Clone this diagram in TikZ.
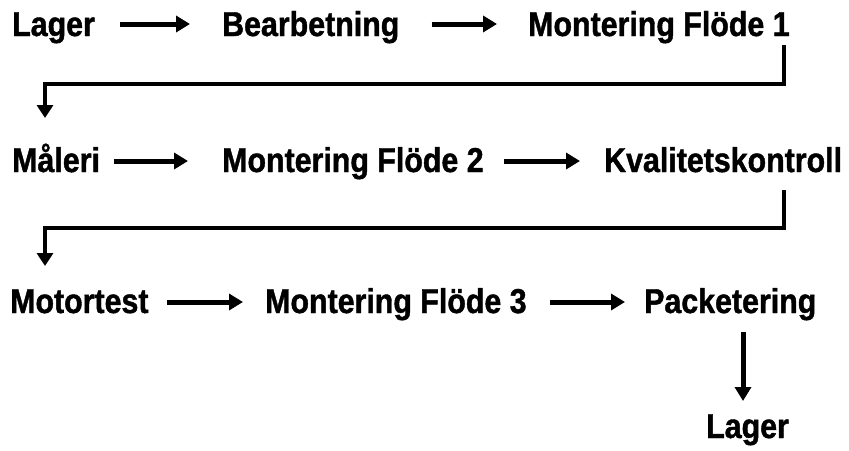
\documentclass[tikz,border=0pt]{standalone}
\usepackage{fontspec}
\newfontfamily\lbl[FakeStretch=0.88,FakeBold=1.2]{Liberation Sans}
\usetikzlibrary{arrows.meta}
\begin{document}
\begin{tikzpicture}[x=1pt,y=-1pt,
  lab/.style={anchor=base west,inner sep=0pt,font=\lbl\bfseries\fontsize{34.5}{34.5}\selectfont},
  arr/.style={line width=5pt,-{Triangle[length=14pt,width=16pt]}},
  conn/.style={line width=4.5pt,-{Triangle[length=13pt,width=16pt]}}]
\path[use as bounding box,fill=white] (0,0) rectangle (849,450);
% row 1
\node[lab] (lager1) at (12,36) {Lager};
\node[lab] (bearb) at (222,36) {Bearbetning};
\node[lab] (mont1) at (528,36) {Montering Flöde 1};
% row 2
\node[lab] (maleri) at (12,172) {Måleri};
\node[lab] (mont2) at (222,172) {Montering Flöde 2};
\node[lab] (kval) at (604,172) {Kvalitetskontroll};
% row 3
\node[lab] (motor) at (10,313) {Motortest};
\node[lab] (mont3) at (265,313) {Montering Flöde 3};
\node[lab] (pack) at (644,313) {Packetering};
\node[lab] (lager2) at (706,438) {Lager};
% horizontal arrows
\draw[arr] ([xshift=25pt,yshift=12pt]lager1.base east) -- ([xshift=-32pt,yshift=12pt]bearb.base west);
\draw[arr] ([xshift=32pt,yshift=12pt]bearb.base east) -- ([xshift=-31pt,yshift=12pt]mont1.base west);
\draw[arr] ([xshift=14pt,yshift=11pt]maleri.base east) -- ([xshift=-34pt,yshift=11pt]mont2.base west);
\draw[arr] ([xshift=20pt,yshift=11pt]mont2.base east) -- ([xshift=-24pt,yshift=11pt]kval.base west);
\draw[arr] ([xshift=18pt,yshift=11pt]motor.base east) -- ([xshift=-22pt,yshift=11pt]mont3.base west);
\draw[arr] ([xshift=23pt,yshift=11pt]mont3.base east) -- ([xshift=-19pt,yshift=11pt]pack.base west);
% row-change connectors
\coordinate (s1) at (784,45);
\coordinate (e1) at (45,118);
\draw[conn] (s1) -- (784,84) -| (e1);
\coordinate (s2) at (784,190);
\coordinate (e2) at (45,266);
\draw[conn] (s2) -- (784,228) -| (e2);
% final arrow
\coordinate (s3) at (743,332);
\coordinate (e3) at (743,401);
\draw[arr] (s3) -- (e3);
\end{tikzpicture}
\end{document}
